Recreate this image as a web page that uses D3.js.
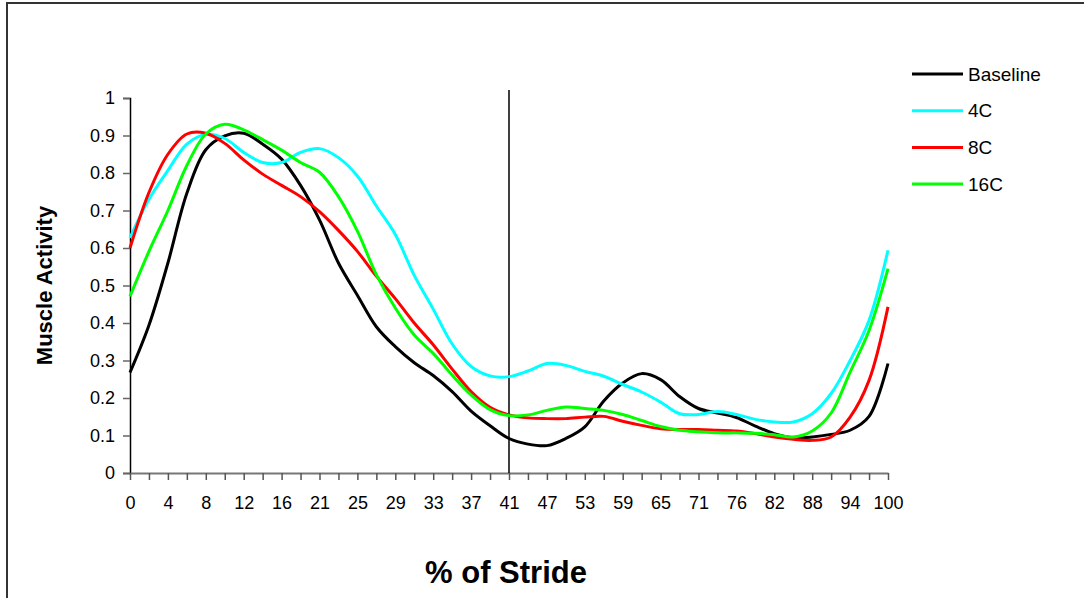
<!DOCTYPE html>
<html>
<head>
<meta charset="utf-8">
<script src="https://cdn.jsdelivr.net/npm/d3@7"></script>
<style>
  body { margin: 0; background: #fff; }
  text { font-family: "Liberation Sans", Arial, sans-serif; }
</style>
</head>
<body>
<div id="chart"></div>
<script>
// category labels shown under every second tick
var strideLabels = ["0", "4", "8", "12", "16", "21", "25", "29", "33", "37", "41",
                    "47", "53", "59", "65", "71", "76", "82", "88", "94", "100"];

// values read at each tick position (41 ticks, labels on the even ones)
var baseline = [0.268, 0.394, 0.56, 0.746, 0.862, 0.899, 0.906, 0.877, 0.837, 0.767,
                0.675, 0.56, 0.474, 0.39, 0.337, 0.294, 0.26, 0.217, 0.165, 0.126,
                0.092, 0.077, 0.073, 0.092, 0.123, 0.192, 0.24, 0.265, 0.249, 0.204,
                0.172, 0.16, 0.148, 0.125, 0.105, 0.094, 0.096, 0.103, 0.114, 0.151,
                0.292];
var c4 = [0.627, 0.73, 0.807, 0.877, 0.903, 0.892, 0.855, 0.828, 0.828, 0.855,
          0.865, 0.841, 0.792, 0.712, 0.636, 0.527, 0.437, 0.344, 0.284, 0.259,
          0.257, 0.272, 0.292, 0.287, 0.271, 0.258, 0.236, 0.216, 0.189, 0.158,
          0.156, 0.164, 0.156, 0.143, 0.136, 0.136, 0.158, 0.212, 0.30, 0.407,
          0.594];
var c8 = [0.600, 0.748, 0.85, 0.904, 0.906, 0.879, 0.835, 0.797, 0.767, 0.737,
          0.697, 0.647, 0.591, 0.525, 0.465, 0.40, 0.342, 0.277, 0.217, 0.175,
          0.155, 0.147, 0.145, 0.145, 0.149, 0.151, 0.138, 0.127, 0.118, 0.116,
          0.116, 0.114, 0.112, 0.105, 0.096, 0.09, 0.087, 0.096, 0.149, 0.247,
          0.443];
var c16 = [0.471, 0.591, 0.70, 0.82, 0.904, 0.93, 0.915, 0.889, 0.861, 0.828,
           0.802, 0.737, 0.645, 0.529, 0.44, 0.368, 0.319, 0.261, 0.208, 0.169,
           0.153, 0.155, 0.167, 0.176, 0.172, 0.167, 0.156, 0.14, 0.124, 0.114,
           0.11, 0.107, 0.107, 0.106, 0.102, 0.096, 0.112, 0.16, 0.269, 0.38,
           0.545];

var seriesNames = ["Baseline", "4C", "8C", "16C"];
var seriesColors = ["#000000", "#00ffff", "#ff0000", "#00ff00"];
var yTicks = [0, 0.1, 0.2, 0.3, 0.4, 0.5, 0.6, 0.7, 0.8, 0.9, 1];
var markerLabel = "41"; // vertical line at end of stance

var width = 1084, height = 598;
var plot = {left: 130, right: 888, top: 98, bottom: 473};
var FONT = "Liberation Sans, Arial, sans-serif";

var svg = d3.select("#chart").append("svg")
    .attr("width", width)
    .attr("height", height);

svg.append("rect")
    .attr("width", width).attr("height", height)
    .attr("fill", "#fff");

// outer frame
svg.append("rect")
    .attr("x", 7).attr("y", 3)
    .attr("width", 1200).attr("height", 800)
    .attr("fill", "none")
    .attr("stroke", "#333")
    .attr("stroke-width", 2);

var nTicks = baseline.length;
var x = d3.scaleLinear().domain([0, nTicks - 1]).range([plot.left, plot.right]);
var y = d3.scaleLinear().domain([0, 1]).range([plot.bottom, plot.top]);

// y axis
var yAxis = svg.append("g")
    .attr("transform", "translate(" + plot.left + ",0)")
    .call(d3.axisLeft(y).tickValues(yTicks).tickSize(7).tickPadding(8)
        .tickFormat(function(d) { return d === 0 || d === 1 ? d : d3.format(".1f")(d); }));
yAxis.select(".domain").attr("stroke", "#000").attr("stroke-width", 1.5);
yAxis.selectAll(".tick line").attr("stroke", "#666").attr("stroke-width", 1.5);
yAxis.selectAll("text").attr("font-size", 18).attr("fill", "#000")
    .attr("font-family", FONT);

// x axis
var xAxis = svg.append("g")
    .attr("transform", "translate(0," + plot.bottom + ")")
    .call(d3.axisBottom(x).tickValues(d3.range(nTicks)).tickSize(7).tickPadding(16)
        .tickSizeOuter(0)
        .tickFormat(function(d) { return d % 2 === 0 ? strideLabels[d / 2] : ""; }));
xAxis.select(".domain").attr("stroke", "#777").attr("stroke-width", 2);
xAxis.selectAll(".tick line").attr("stroke", "#555").attr("stroke-width", 1.5);
xAxis.selectAll("text").attr("font-size", 18).attr("fill", "#000")
    .attr("font-family", FONT);

// vertical marker
var markerX = x(strideLabels.indexOf(markerLabel) * 2);
svg.append("line")
    .attr("x1", markerX).attr("x2", markerX)
    .attr("y1", 90).attr("y2", plot.bottom)
    .attr("stroke", "#000").attr("stroke-width", 1.5);

// lines
var line = d3.line()
    .x(function(d, i) { return x(i); })
    .y(function(d) { return y(d); })
    .curve(d3.curveCatmullRom.alpha(0.5));

var allSeries = [baseline, c4, c8, c16];
allSeries.forEach(function(s, k) {
    svg.append("path")
        .datum(s)
        .attr("d", line)
        .attr("fill", "none")
        .attr("stroke", seriesColors[k])
        .attr("stroke-width", 3)
        .attr("stroke-linejoin", "round");
});

// axis titles
svg.append("text")
    .attr("transform", "translate(52," + ((plot.top + plot.bottom) / 2) + ") rotate(-90)")
    .attr("text-anchor", "middle")
    .attr("font-size", 22)
    .attr("font-weight", "bold")
    .text("Muscle Activity");

svg.append("text")
    .attr("x", 506)
    .attr("y", 583)
    .attr("text-anchor", "middle")
    .attr("font-size", 31)
    .attr("font-weight", "bold")
    .text("% of Stride");

// legend
var legend = svg.append("g").attr("transform", "translate(912,74)");
seriesNames.forEach(function(name, k) {
    var g = legend.append("g").attr("transform", "translate(0," + (k * 36.7) + ")");
    g.append("line")
        .attr("x1", 0).attr("x2", 51)
        .attr("stroke", seriesColors[k])
        .attr("stroke-width", 3);
    g.append("text")
        .attr("x", 56).attr("y", 0)
        .attr("dy", "0.35em")
        .attr("font-size", 19)
        .text(name);
});
</script>
</body>
</html>
